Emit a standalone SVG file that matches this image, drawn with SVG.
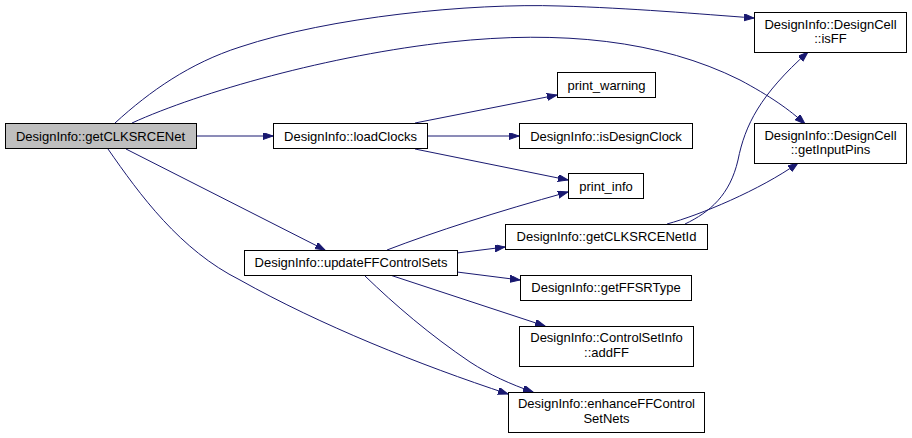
<svg xmlns="http://www.w3.org/2000/svg" width="912" height="438" viewBox="0 0 912 438">
<style>
  .n rect { fill: #ffffff; stroke: #000000; stroke-width: 1; }
  .n.root rect { fill: #bfbfbf; }
  .n text { font-family: "Liberation Sans", Arial, Helvetica, sans-serif; font-size: 13px; fill: #000000; text-anchor: middle; }
  #edges path { fill: none; stroke: #191970; stroke-width: 1; marker-end: url(#arr); }
</style>
<defs>
  <marker id="arr" markerUnits="userSpaceOnUse" markerWidth="11" markerHeight="8" refX="10" refY="3.5" orient="auto">
    <path d="M0,0 L10,3.5 L0,7 Z" fill="#191970" stroke="#191970" stroke-width="1"/>
  </marker>
</defs>
<rect x="0" y="0" width="912" height="438" fill="#ffffff"/>
<g id="edges">
  <path d="M196,136 L273,136"/>
  <path d="M115,123 C150,91 190,63 240,47 C330,17 470,3 560,6 C630,8 700,14 754,18"/>
  <path d="M132,123 C200,92 330,55 450,42 C560,30 660,40 740,80 C770,96 790,110 805,124"/>
  <path d="M415,123 L557,95"/>
  <path d="M427,136 L519,136"/>
  <path d="M415,149 L568,180"/>
  <path d="M126,149 L325,250"/>
  <path d="M108,149 C140,195 180,250 240,280 C320,325 420,365 508,394"/>
  <path d="M387,250 Q460,222 568,192"/>
  <path d="M457,253 L505,247"/>
  <path d="M457,272 L520,280"/>
  <path d="M390,275 L545,326"/>
  <path d="M365,276 C395,305 430,335 470,362 C490,375 510,384 533,392"/>
  <path d="M685,224 C710,212 730,195 738,160 C745,125 760,95 808,52"/>
  <path d="M667,224 C700,215 760,190 798,163"/>
</g>
<g id="getCLKSRCENet" class="n root"><rect x="5.5" y="123.5" width="191" height="25"/><text x="100.5" y="140.5">DesignInfo::getCLKSRCENet</text></g>
<g id="loadClocks" class="n"><rect x="273.5" y="123.5" width="154" height="25"/><text x="350.5" y="140.5">DesignInfo::loadClocks</text></g>
<g id="print_warning" class="n"><rect x="557.5" y="72.5" width="98" height="25"/><text x="606.5" y="89.5">print_warning</text></g>
<g id="isDesignClock" class="n"><rect x="519.5" y="123.5" width="173" height="25"/><text x="606" y="140.5">DesignInfo::isDesignClock</text></g>
<g id="print_info" class="n"><rect x="568.5" y="173.5" width="75" height="25"/><text x="606" y="190.5">print_info</text></g>
<g id="isFF" class="n"><rect x="754.5" y="12.5" width="152" height="40"/><text x="830.5" y="28.5">DesignInfo::DesignCell</text><text x="830.5" y="42.5">::isFF</text></g>
<g id="getInputPins" class="n"><rect x="754.5" y="123.5" width="152" height="40"/><text x="830.5" y="139.5">DesignInfo::DesignCell</text><text x="830.5" y="153.5">::getInputPins</text></g>
<g id="updateFFControlSets" class="n"><rect x="244.5" y="250.5" width="213" height="25"/><text x="351" y="266.5">DesignInfo::updateFFControlSets</text></g>
<g id="getCLKSRCENetId" class="n"><rect x="505.5" y="224.5" width="202" height="25"/><text x="606.5" y="240.5">DesignInfo::getCLKSRCENetId</text></g>
<g id="getFFSRType" class="n"><rect x="520.5" y="275.5" width="171" height="25"/><text x="606" y="291.5">DesignInfo::getFFSRType</text></g>
<g id="addFF" class="n"><rect x="519.5" y="326.5" width="174" height="40"/><text x="606.5" y="342">DesignInfo::ControlSetInfo</text><text x="606.5" y="357">::addFF</text></g>
<g id="enhanceFFControlSetNets" class="n"><rect x="508.5" y="392.5" width="196" height="40"/><text x="606.5" y="408">DesignInfo::enhanceFFControl</text><text x="606.5" y="422.5">SetNets</text></g>
</svg>
